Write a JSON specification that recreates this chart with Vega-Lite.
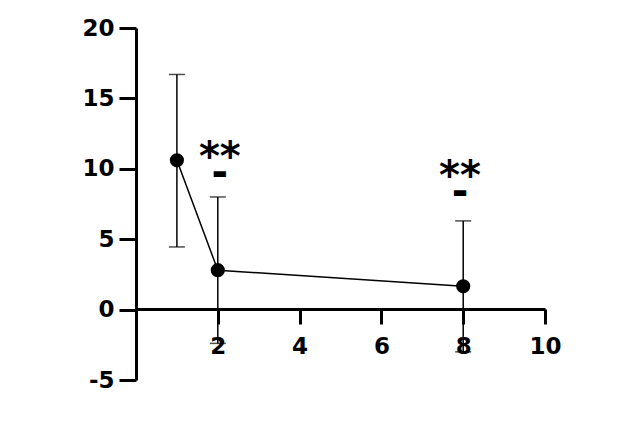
{
  "$schema": "https://vega.github.io/schema/vega-lite/v6.json",
  "width": 409,
  "height": 352,
  "autosize": {"type": "none"},
  "padding": {"left": 136, "top": 28, "right": 98, "bottom": 48},
  "background": "white",
  "config": {"view": {"stroke": null}, "font": "DejaVu Sans"},
  "datasets": {
    "pts": [
      {"time": 1, "mean": 10.6, "lo": 4.45, "hi": 16.7},
      {"time": 2, "mean": 2.8, "lo": -2.4, "hi": 8.0},
      {"time": 8, "mean": 1.65, "lo": -3.0, "hi": 6.3}
    ],
    "ann": [
      {"time": 2.05, "y": 10.75, "label": "**"},
      {"time": 2.05, "y": 9.6, "label": "-"},
      {"time": 7.92, "y": 9.45, "label": "**"},
      {"time": 7.92, "y": 8.3, "label": "-"}
    ]
  },
  "layer": [
    {
      "data": {"name": "pts"},
      "mark": {"type": "rule", "color": "black", "strokeWidth": 1.5},
      "encoding": {
        "x": {
          "field": "time", "type": "quantitative",
          "scale": {"domain": [0, 10], "nice": false, "zero": false},
          "axis": {
            "title": null, "values": [2, 4, 6, 8, 10], "offset": -71,
            "domainColor": "black", "domainWidth": 3, "tickColor": "black", "tickWidth": 3, "tickSize": 15,
            "labelFont": "DejaVu Sans", "labelFontWeight": "bold", "labelFontSize": 23, "labelColor": "black",
            "labelPadding": 11, "grid": false, "labelFlush": false
          }
        },
        "y": {
          "field": "lo", "type": "quantitative",
          "scale": {"domain": [-5, 20], "nice": false},
          "axis": {
            "title": null, "values": [-5, 0, 5, 10, 15, 20],
            "labelExpr": "'' + datum.value",
            "domainColor": "black", "domainWidth": 3, "tickColor": "black", "tickWidth": 3, "tickSize": 17,
            "labelFont": "DejaVu Sans", "labelFontWeight": "bold", "labelFontSize": 23, "labelColor": "black",
            "labelPadding": 5, "grid": false, "labelFlush": false
          }
        },
        "y2": {"field": "hi"}
      }
    },
    {
      "data": {"name": "pts"},
      "mark": {"type": "tick", "orient": "horizontal", "color": "black", "thickness": 1.5, "size": 16},
      "encoding": {
        "x": {"field": "time", "type": "quantitative"},
        "y": {"field": "hi", "type": "quantitative"}
      }
    },
    {
      "data": {"name": "pts"},
      "mark": {"type": "tick", "orient": "horizontal", "color": "black", "thickness": 1.5, "size": 16},
      "encoding": {
        "x": {"field": "time", "type": "quantitative"},
        "y": {"field": "lo", "type": "quantitative"}
      }
    },
    {
      "data": {"name": "pts"},
      "mark": {"type": "line", "color": "black", "strokeWidth": 1.5},
      "encoding": {
        "x": {"field": "time", "type": "quantitative"},
        "y": {"field": "mean", "type": "quantitative"}
      }
    },
    {
      "data": {"name": "pts"},
      "mark": {"type": "circle", "color": "black", "opacity": 1, "size": 200},
      "encoding": {
        "x": {"field": "time", "type": "quantitative"},
        "y": {"field": "mean", "type": "quantitative"}
      }
    },
    {
      "data": {"name": "ann"},
      "mark": {"type": "text", "font": "DejaVu Sans", "fontWeight": "bold", "fontSize": 40, "color": "black", "baseline": "middle", "align": "center"},
      "encoding": {
        "x": {"field": "time", "type": "quantitative"},
        "y": {"field": "y", "type": "quantitative"},
        "text": {"field": "label"}
      }
    }
  ]
}
